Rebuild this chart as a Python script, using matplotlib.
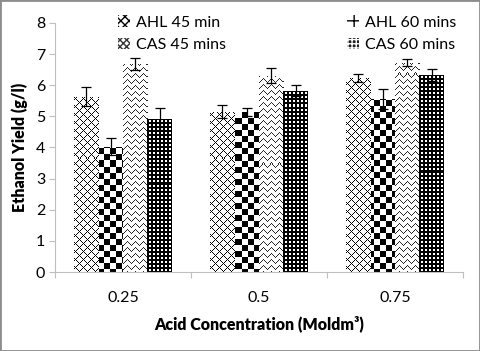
import numpy as np
import matplotlib
matplotlib.use("Agg")
import matplotlib.pyplot as plt
from matplotlib.patches import Patch, Rectangle

plt.rcParams['font.family'] = ['Lato', 'DejaVu Sans']

categories = ["0.25", "0.5", "0.75"]
series = ["AHL 45 min", "AHL 60 mins", "CAS 45 mins", "CAS 60 mins"]
ahl45 = [5.63, 5.15, 6.22]
ahl60 = [4.03, 5.15, 5.56]
cas45 = [6.68, 6.30, 6.73]
cas60 = [4.92, 5.83, 6.33]
ahl45_err = [0.30, 0.20, 0.13]
ahl60_err = [0.26, 0.13, 0.31]
cas45_err = [0.18, 0.24, 0.12]
cas60_err = [0.36, 0.17, 0.19]

values = [ahl45, ahl60, cas45, cas60]
errors = [ahl45_err, ahl60_err, cas45_err, cas60_err]

W, H = 480, 351
fig = plt.figure(figsize=(W/100, H/100), dpi=100)
L, R, B, T = 55, 463, 272, 23
ax = fig.add_axes([L/W, 1-B/H, (R-L)/W, (B-T)/H])

xlim = (-0.5, 2.5)
ylim = (0, 8)
pw, ph = R-L, B-T
yy, xx = np.mgrid[0:ph, 0:pw]

# pattern images (1 = black, 0 = white)
pat_cross = (((xx + yy) % 8 == 0) | ((xx - yy) % 8 == 0)).astype(float)
pat_checker = (((xx // 6) + (yy // 6)) % 2 == 0).astype(float)
pat_zig = (((yy + np.abs((xx % 8) - 4)) % 6 == 0)).astype(float) * 0.85
pat_grid = 1.0 - (((xx % 4) >= 2) & ((yy % 4) >= 2)).astype(float)
patterns = [pat_cross, pat_checker, pat_zig, pat_grid]

x = np.arange(len(categories))
w = 0.18
offsets = [-1.5*w, -0.5*w, 0.5*w, 1.5*w]
for i in range(4):
    bars = ax.bar(x + offsets[i], values[i], w, color='white', linewidth=0, zorder=1)
    for b in bars:
        im = ax.imshow(patterns[i], cmap='gray_r', vmin=0, vmax=1, extent=[xlim[0], xlim[1], ylim[0], ylim[1]],
                       aspect='auto', interpolation='nearest', zorder=1.5)
        im.set_clip_path(b)
    ax.errorbar(x + offsets[i], values[i], yerr=errors[i], fmt='none', ecolor='black',
                elinewidth=0.9, capsize=3.5, capthick=0.9, zorder=3)

ax.set_xlim(*xlim)
ax.set_ylim(*ylim)
ax.set_yticks(range(0, 9))
ax.set_xticks([-0.5, 0.5, 1.5, 2.5])
ax.set_xticklabels([])
ax.set_xticks(x, minor=True)
ax.set_xticklabels(categories, minor=True)
ax.tick_params(axis='x', which='major', length=4, color='#BFBFBF', direction='out')
ax.tick_params(axis='x', which='minor', length=0, pad=14, labelsize=11.5)
ax.tick_params(axis='y', length=4, color='#BFBFBF', labelsize=11.5, pad=3)
for s in ['top', 'right']:
    ax.spines[s].set_visible(False)
for s in ['left', 'bottom']:
    ax.spines[s].set_color('#BFBFBF')
ax.set_ylabel("Ethanol Yield (g/l)", fontsize=11.5, fontweight='heavy', labelpad=6)
ax.set_xlabel("Acid Concentration (Moldm³)", fontsize=11.5, fontweight='heavy', labelpad=7)

handles = [
    Patch(facecolor='white', edgecolor='black', hatch='xxxx', linewidth=0),
    Patch(facecolor='white', edgecolor='black', hatch='++', linewidth=0),
    Patch(facecolor='white', edgecolor='#333333', hatch='xxxxx', linewidth=0),
    Patch(facecolor='#222222', edgecolor='white', hatch='++++', linewidth=0),
]
order = [0, 2, 1, 3]
leg = fig.legend([handles[k] for k in order], [series[k] for k in order], ncol=2,
                 loc='upper left', bbox_to_anchor=(104/W, 1-1/H), frameon=False,
                 fontsize=11.5, handlelength=0.7, handleheight=0.7, handletextpad=0.4,
                 columnspacing=7.6, labelspacing=0.5)

fig.add_artist(Rectangle((0, 0), 1, 1, transform=fig.transFigure, fill=False,
                         edgecolor='#8c8c8c', linewidth=2))
fig.savefig("out.png", dpi=100)
